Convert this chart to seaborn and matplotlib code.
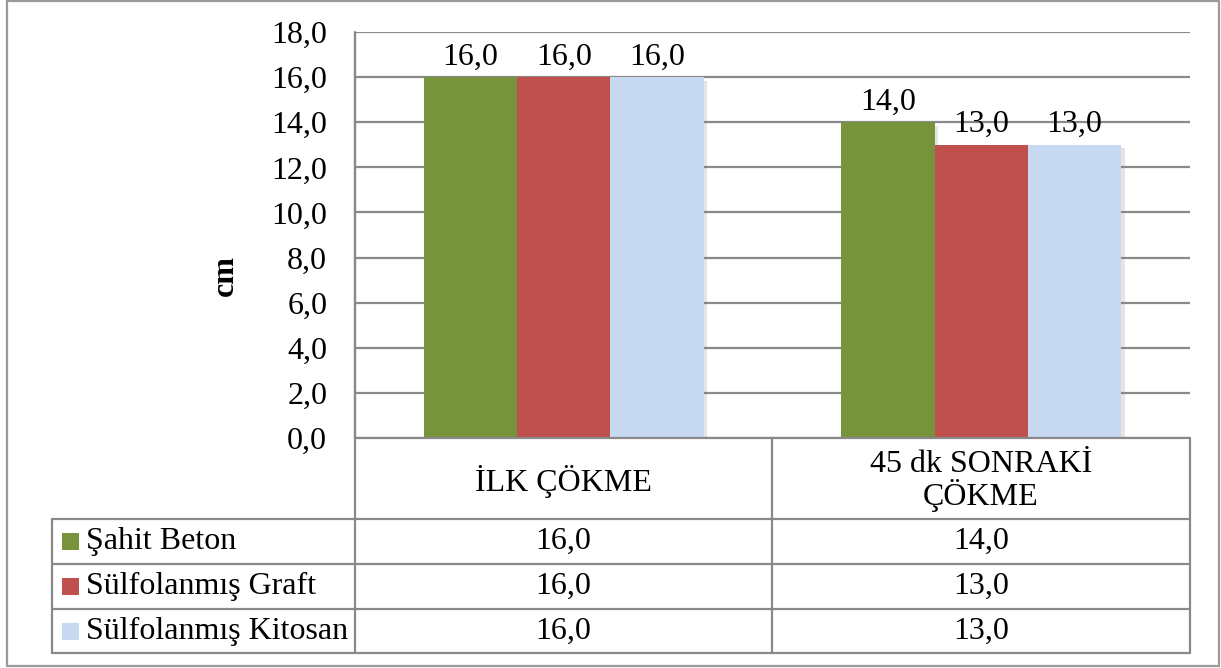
import matplotlib
matplotlib.use("Agg")
import matplotlib.pyplot as plt
import matplotlib.patheffects as pe
from matplotlib.lines import Line2D
from matplotlib.patches import Rectangle
from matplotlib.ticker import FuncFormatter, MultipleLocator
import pandas as pd
import seaborn as sns

# Data
categories = ["İLK ÇÖKME", "45 dk SONRAKİ\nÇÖKME"]
series = ["Şahit Beton", "Sülfolanmış Graft", "Sülfolanmış Kitosan"]
sahit_beton = [16.0, 14.0]
sulfo_graft = [16.0, 13.0]
sulfo_kitosan = [16.0, 13.0]
colors = ["#77933C", "#C0504D", "#C6D9F1"]

values = [sahit_beton, sulfo_graft, sulfo_kitosan]
df = pd.DataFrame(
    [(c, s, v[i]) for s, v in zip(series, values) for i, c in enumerate(categories)],
    columns=["kategori", "seri", "deger"],
)

sns.set_theme(style="white")
plt.rcParams["font.family"] = ["Liberation Serif", "DejaVu Serif"]

FS = 23
W, H = 1221, 668
fig = plt.figure(figsize=(W / 100, H / 100), dpi=100)

def fx(x):
    return x / W

def fy(y):
    return 1 - y / H

GRID = "#898989"

# plot area
x0, x1, ytop, ybot = 355, 1190, 32, 438
ax = fig.add_axes([fx(x0), fy(ybot), fx(x1) - fx(x0), fy(ytop) - fy(ybot)])

sns.barplot(
    data=df, x="kategori", y="deger", hue="seri", palette=colors,
    width=0.67, saturation=1, ax=ax, legend=False, edgecolor="none",
)

shadow = [pe.SimplePatchShadow(offset=(2.5, -2.5), shadow_rgbFace="#808080", alpha=0.2), pe.Normal()]
for cont in ax.containers:
    for bar in cont:
        bar.set_path_effects(shadow)
    ax.bar_label(
        cont, labels=[f"{b.get_height():.1f}".replace(".", ",") for b in cont],
        padding=4, fontsize=FS, color="black",
    )

ax.set_xlim(-0.5, 1.5)
ax.set_ylim(0, 18)
ax.yaxis.set_major_locator(MultipleLocator(2))
ax.yaxis.set_major_formatter(FuncFormatter(lambda v, p: f"{v:.1f}".replace(".", ",")))
ax.tick_params(axis="y", length=0, pad=20, labelsize=FS, labelcolor="black")
ax.set_xticks([])
ax.set_xlabel("")
ax.set_ylabel("")
ax.grid(axis="y", color=GRID, lw=1.6)
ax.set_axisbelow(True)
for side in ["top", "right", "bottom"]:
    ax.spines[side].set_visible(False)
ax.spines["left"].set_color(GRID)
ax.spines["left"].set_linewidth(1.6)
ax.spines["left"].set_capstyle("butt")
ax.patch.set_alpha(0)

fig.text(fx(225), fy(276), "cm", rotation=90, ha="center", va="center",
         fontsize=FS, fontweight="bold", color="black")

# data table below the plot
def hline(y, xa, xb, lw=1.6, color=GRID):
    fig.add_artist(Line2D([fx(xa), fx(xb)], [fy(y), fy(y)], color=color, lw=lw))

def vline(x, ya, yb, lw=1.6, color=GRID):
    fig.add_artist(Line2D([fx(x), fx(x)], [fy(ya), fy(yb)], color=color, lw=lw))

row_y = [519, 564, 609, 653]
col_x = [x0, 772, x1]
hline(ybot, x0, x1)
for y in row_y:
    hline(y, 52, x1)
vline(52, row_y[0], row_y[-1])
for x in col_x:
    vline(x, ybot if x != x0 else ytop, row_y[-1])

col_centers = [(col_x[i] + col_x[i + 1]) / 2 for i in range(2)]
for cx, cat in zip(col_centers, categories):
    fig.text(fx(cx), fy(481), cat, ha="center", va="center", fontsize=FS,
             linespacing=1.0, color="black")

for r, (name, vals, col) in enumerate(zip(series, values, colors)):
    cy = (row_y[r] + row_y[r + 1]) / 2
    fig.add_artist(Rectangle((fx(62), fy(cy + 8.5)), fx(17), 17 / H,
                             transform=fig.transFigure, facecolor=col, edgecolor="none"))
    fig.text(fx(86), fy(cy), name, ha="left", va="center", fontsize=FS, color="black")
    for cx, v in zip(col_centers, vals):
        fig.text(fx(cx), fy(cy), f"{v:.1f}".replace(".", ","), ha="center",
                 va="center", fontsize=FS, color="black")

# outer chart border
fig.add_artist(Rectangle((fx(7), fy(666)), fx(1219) - fx(7), fy(1) - fy(666),
                         transform=fig.transFigure, facecolor="none",
                         edgecolor="#9a9a9a", lw=1.6))

fig.savefig("out.png", dpi=100)
